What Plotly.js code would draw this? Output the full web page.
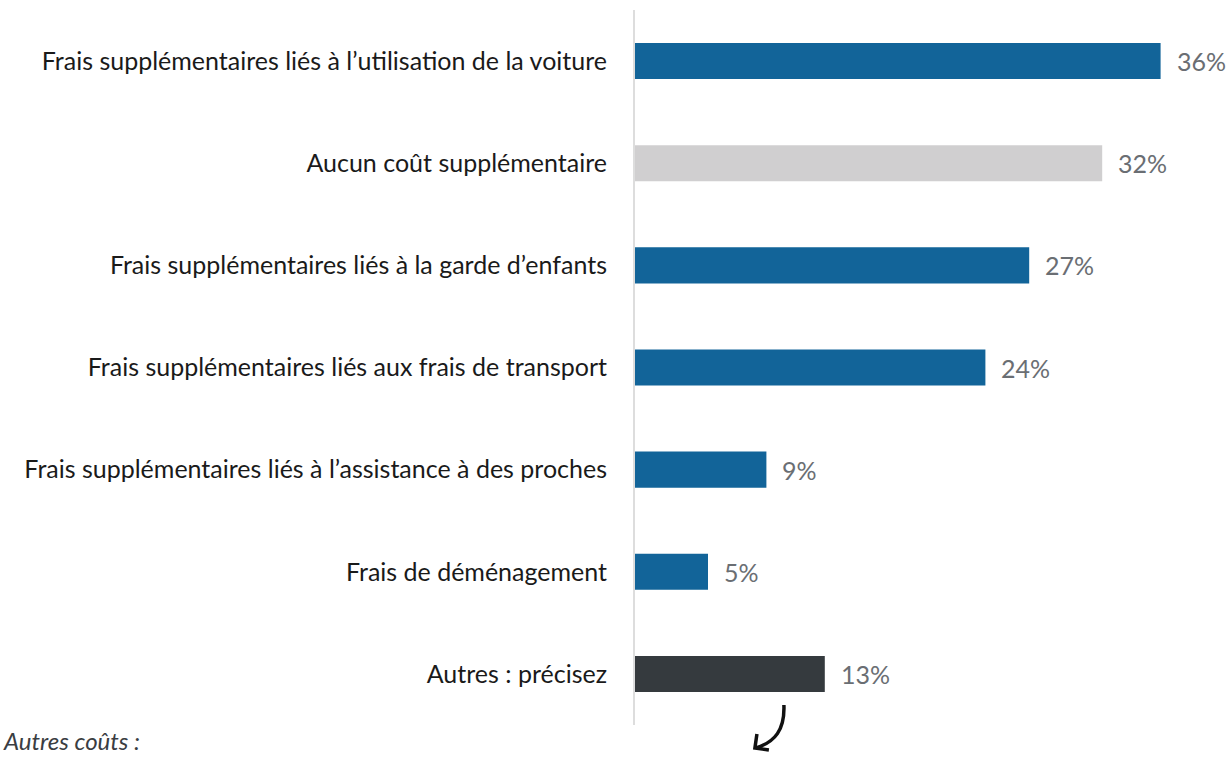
<!DOCTYPE html>
<html><head><meta charset="utf-8">
<script src="https://cdn.plot.ly/plotly-3.0.1.min.js"></script>
<style>html,body{margin:0;padding:0;background:#fff;}#chart{width:1232px;height:757px;}</style>
</head><body><div id="chart"></div>
<script>
const categories = [
  "Frais supplémentaires liés à l’utilisation de la voiture",
  "Aucun coût supplémentaire",
  "Frais supplémentaires liés à la garde d’enfants",
  "Frais supplémentaires liés aux frais de transport",
  "Frais supplémentaires liés à l’assistance à des proches",
  "Frais de déménagement",
  "Autres : précisez"
];
const values = [36, 32, 27, 24, 9, 5, 13];
const valueLabels = ["36%", "32%", "27%", "24%", "9%", "5%", "13%"];
const barColors = ["#126499", "#D0CFD0", "#126499", "#126499", "#126499", "#126499", "#353A3E"];
const noteText = "Autres coûts :";

const W = 1232, H = 757;
const mL = 635, mR = 12.6, mT = 10, mB = 32;
const pw = W - mL - mR, ph = H - mT - mB;
const px = x => (x - mL) / pw;
const py = y => (H - mB - y) / ph;
const FONT = "Lato, 'Open Sans', sans-serif";

const trace = {
  type: "bar", orientation: "h",
  x: values, y: categories,
  marker: {color: barColors, line: {width: 0}},
  hoverinfo: "none"
};

const annotations = values.map((v, i) => ({
  x: v, y: categories[i], xref: "x", yref: "y",
  text: valueLabels[i], showarrow: false, xanchor: "left", xshift: 14,
  font: {family: FONT, size: 25, color: "#6A6E73"}
}));
annotations.push({
  x: px(1), y: py(740), xref: "paper", yref: "paper",
  text: "<i>" + noteText + "</i>", showarrow: false, xanchor: "left", yanchor: "middle",
  font: {family: FONT, size: 24, color: "#3A3D42"}
});

const arrowPath = `M ${px(784)} ${py(705)} C ${px(785)} ${py(730)} ${px(775)} ${py(742)} ${px(756)} ${py(748)}`;
const headPath = `M ${px(757)} ${py(734)} L ${px(755)} ${py(748)} L ${px(769)} ${py(750)}`;

const layout = {
  width: W, height: H,
  margin: {l: mL, r: mR, t: mT, b: mB, pad: 0},
  paper_bgcolor: "#fff", plot_bgcolor: "#fff",
  showlegend: false,
  bargap: 0.647,
  xaxis: {range: [0, 40], visible: false, fixedrange: true},
  yaxis: {
    autorange: "reversed", showgrid: false, zeroline: false,
    showline: true, linecolor: "#DDDDDD", linewidth: 2,
    ticks: "", ticklabelstandoff: 21,
    tickfont: {family: FONT, size: 25, color: "#1A1A1A"}
  },
  annotations: annotations,
  shapes: [
    {type: "path", xref: "paper", yref: "paper", path: arrowPath, line: {color: "#111", width: 3.5}},
    {type: "path", xref: "paper", yref: "paper", path: headPath, line: {color: "#111", width: 3.5}}
  ]
};

Plotly.newPlot("chart", [trace], layout, {displayModeBar: false, staticPlot: true});
</script></body></html>
